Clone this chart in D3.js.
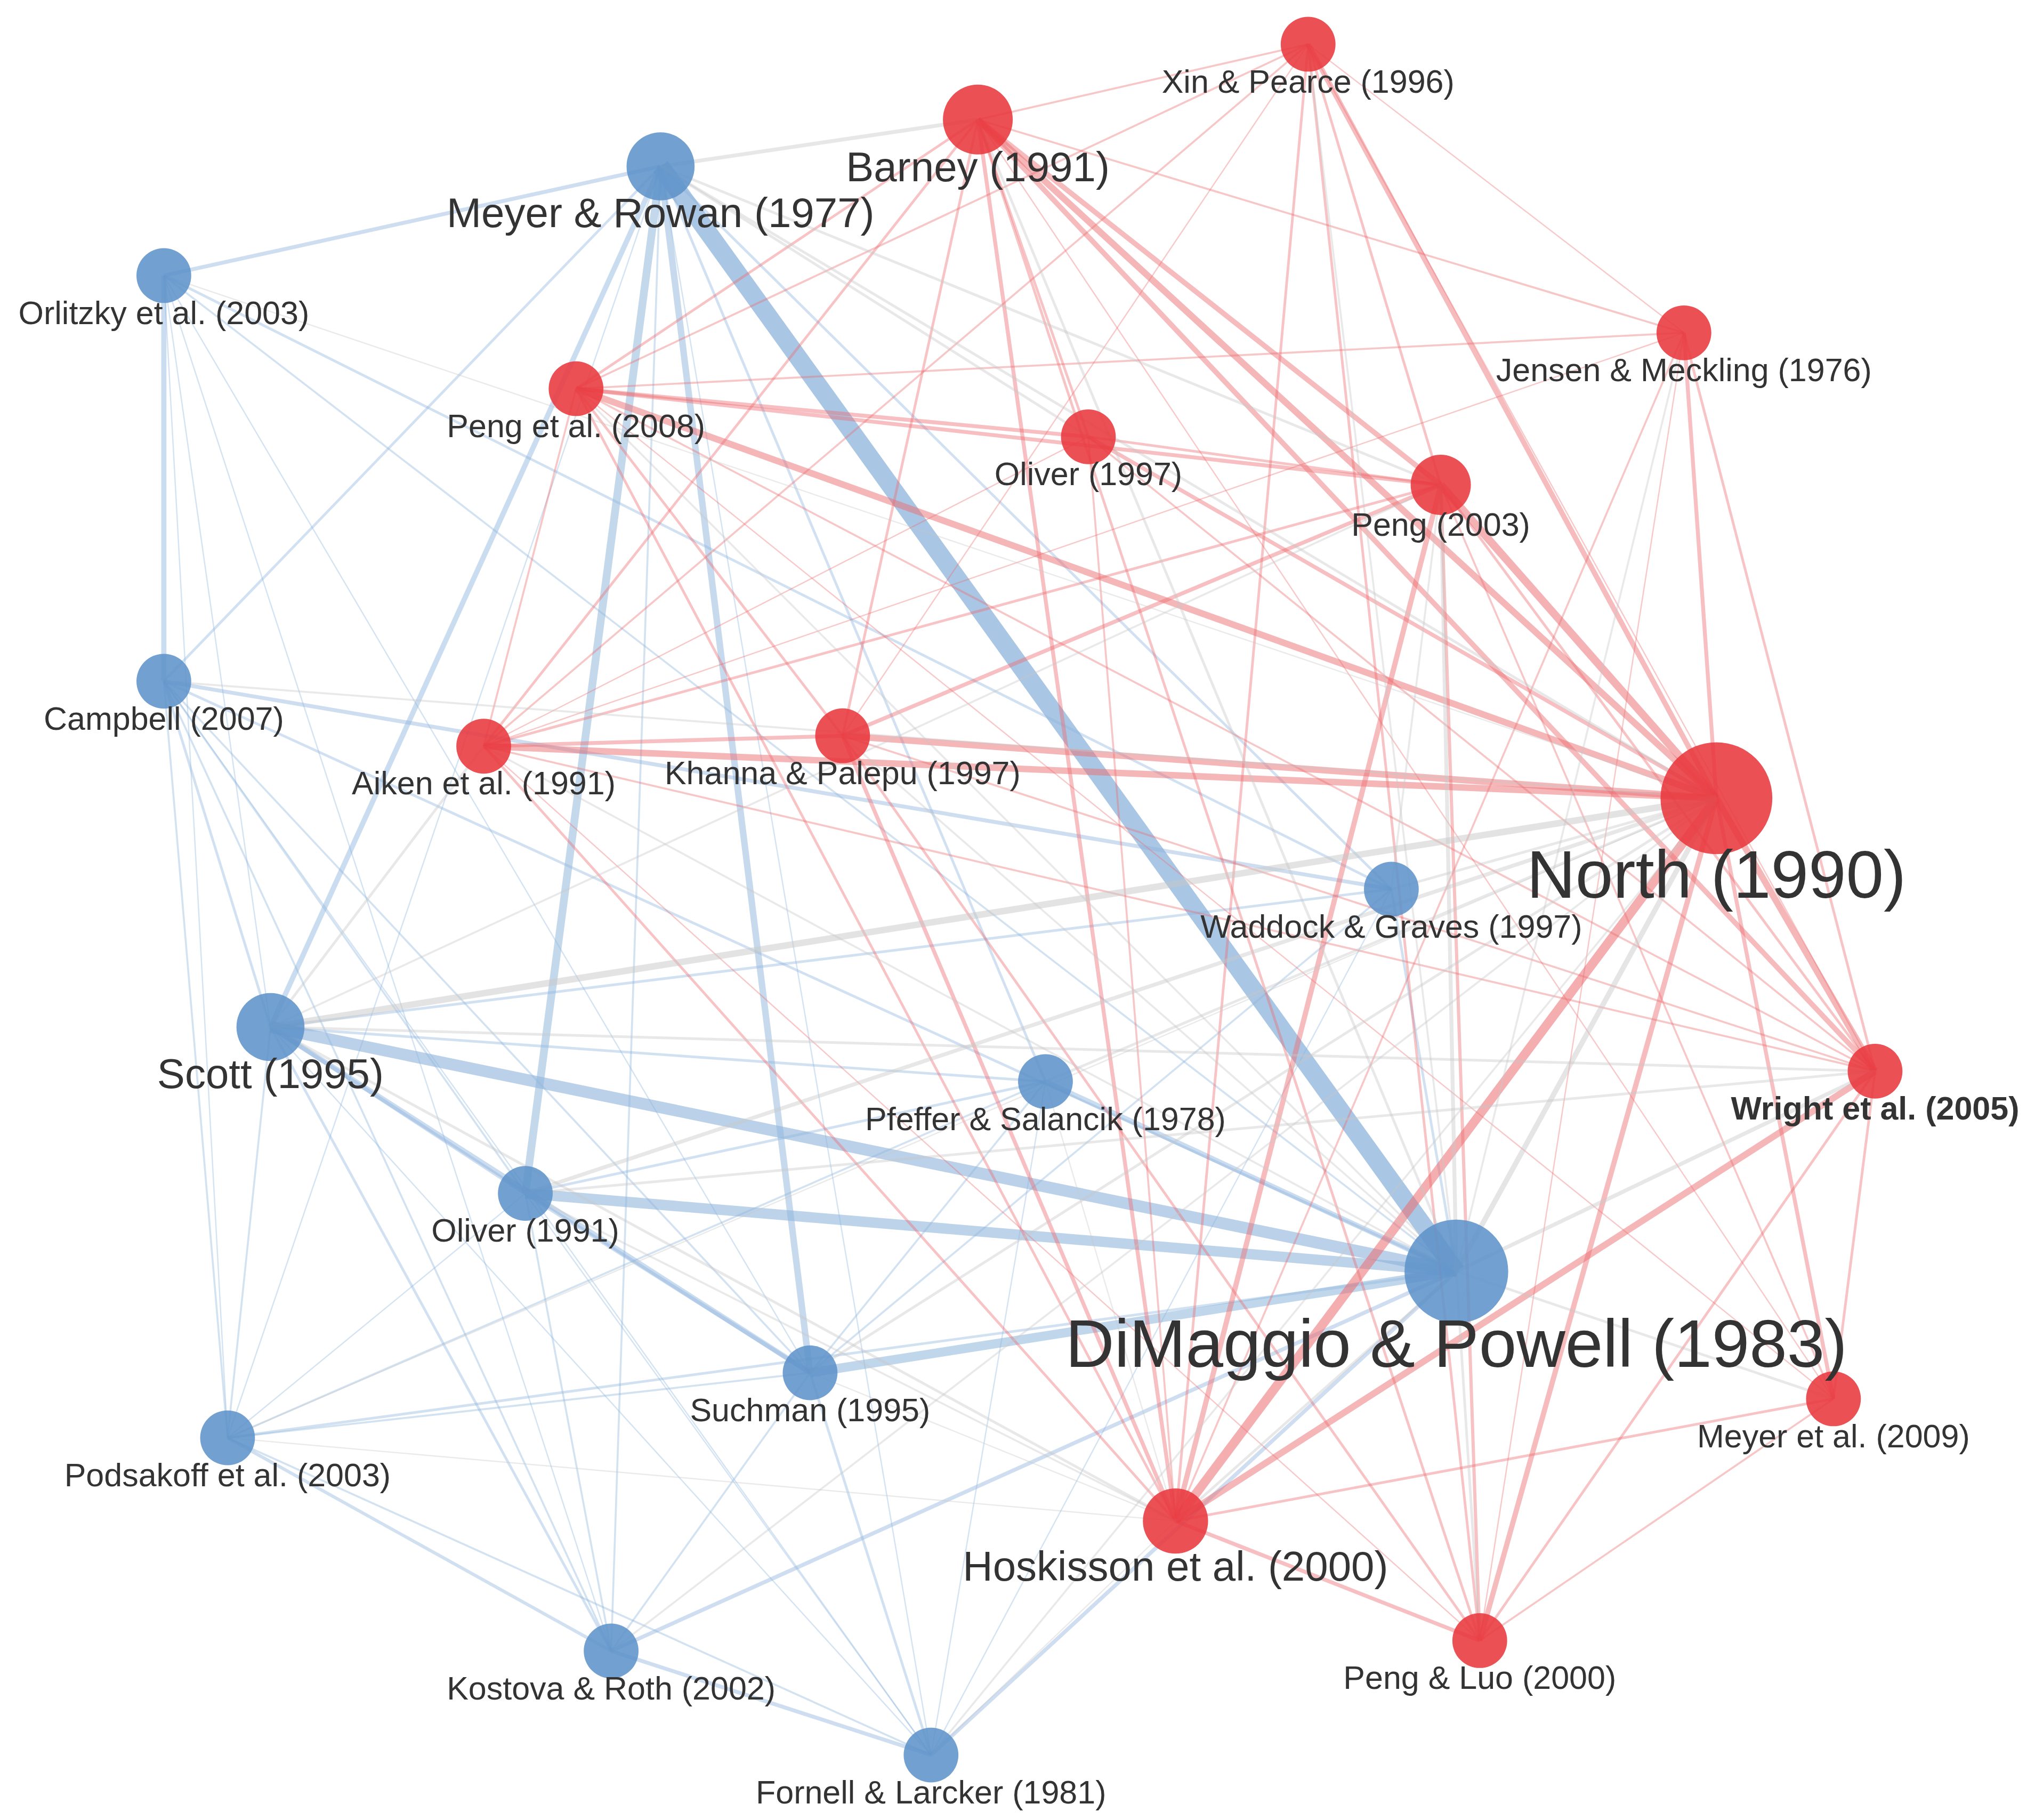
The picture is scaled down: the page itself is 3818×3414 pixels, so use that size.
<!DOCTYPE html>
<html>
<head>
<meta charset="utf-8">
<script src="https://cdn.jsdelivr.net/npm/d3@7"></script>
<style>
  body { margin: 0; background: #fff; }
  text { font-family: "Liberation Sans", Arial, sans-serif; fill: #333; }
</style>
</head>
<body>
<svg id="net"></svg>
<script>
// node ids, labels, cluster, citations and layout position (in reference pixels)
var ids = ["MR","OR","CA","SC","OL91","PS","WG","DP","SU","PO","KR","FL",
           "BA","XP","JM","PE08","OL97","PE03","AI","KP","NO","WR","ME09","HO","PL"];
var labels = ["Meyer & Rowan (1977)","Orlitzky et al. (2003)","Campbell (2007)","Scott (1995)","Oliver (1991)",
  "Pfeffer & Salancik (1978)","Waddock & Graves (1997)","DiMaggio & Powell (1983)","Suchman (1995)",
  "Podsakoff et al. (2003)","Kostova & Roth (2002)","Fornell & Larcker (1981)",
  "Barney (1991)","Xin & Pearce (1996)","Jensen & Meckling (1976)","Peng et al. (2008)","Oliver (1997)",
  "Peng (2003)","Aiken et al. (1991)","Khanna & Palepu (1997)","North (1990)","Wright et al. (2005)",
  "Meyer et al. (2009)","Hoskisson et al. (2000)","Peng & Luo (2000)"];
var cluster = ["b","b","b","b","b","b","b","b","b","b","b","b",
               "r","r","r","r","r","r","r","r","r","r","r","r","r"];
var cites = [37,24,24,37,24,24,24,86,24,24,24,24,
             39,24,24,24,24,29,24,24,100,24,24,34,24];
var posX = [508,126,126,208,404,804,1070,1120,623,175,470,716,
            752,1006,1295,443,837,1108,372,648,1320,1442,1410,904,1138];
var posY = [128,212,524,790,918,832,684,978,1056,1106,1270,1350,
            92,34,256,299,336,373,574,566,614,824,1076,1170,1262];

// co-citation links: [source, target, strength]
var links = [
  ["MR","DP",14],["MR","OL91",6],["MR","SU",5],["MR","SC",4],["MR","OR",3],["MR","CA",2],["MR","PS",2],["MR","WG",2],["MR","FL",1],["MR","KR",1.5],["MR","PO",1],
  ["OR","CA",4],["OR","WG",2],["OR","DP",1.5],["OR","SC",1],["OR","PO",1],["OR","SU",1],["OR","KR",1],
  ["CA","WG",3],["CA","DP",2],["CA","SC",2],["CA","PO",1.5],["CA","OL91",1.5],["CA","SU",1.5],["CA","KR",1.5],["CA","FL",1],
  ["SC","DP",9],["SC","OL91",3],["SC","SU",4],["SC","PS",2],["SC","WG",2],["SC","KR",2],["SC","PO",1.5],["SC","FL",1],
  ["OL91","DP",8],["OL91","SU",3],["OL91","PS",2],["OL91","KR",1.5],["OL91","FL",1],["OL91","PO",1],
  ["PS","DP",4],["PS","SU",1.5],["PS","PO",1.5],["PS","FL",1],
  ["WG","DP",2],["WG","SU",1.5],["WG","FL",1],
  ["SU","DP",7],["SU","PO",1.5],["SU","KR",1.5],["SU","FL",2],
  ["DP","KR",3],["DP","FL",3],["DP","PO",2],["PO","KR",2.5],["PO","FL",1.5],["KR","FL",3],
  ["NO","HO",7],["NO","PE03",6],["NO","BA",5],["NO","PE08",5],["NO","AI",5],["NO","KP",5],["NO","WR",5],["NO","XP",4],["NO","JM",3],["NO","PL",4],["NO","OL97",3],["NO","ME09",3],
  ["BA","PE03",4],["BA","WR",4],["BA","HO",3],["BA","AI",2],["BA","PE08",2],["BA","OL97",2],["BA","PL",2],["BA","KP",2],["BA","JM",1.5],["BA","XP",1.5],["BA","ME09",1],
  ["XP","PE03",2],["XP","HO",2],["XP","PL",2],["XP","PE08",1.5],["XP","AI",1.5],["XP","KP",1],["XP","WR",1],["XP","JM",1],
  ["JM","WR",2],["JM","PE08",1.5],["JM","HO",1.5],["JM","AI",1],["JM","PL",1],
  ["PE08","PE03",3],["PE08","OL97",3],["PE08","KP",2],["PE08","HO",2],["PE08","AI",1.5],["PE08","WR",1.5],["PE08","ME09",1],
  ["OL97","PE03",2],["OL97","HO",1.5],["OL97","WR",1.5],["OL97","AI",1],
  ["PE03","HO",4],["PE03","KP",3],["PE03","AI",2],["PE03","PL",2.5],["PE03","WR",2],["PE03","ME09",1.5],
  ["AI","KP",3],["AI","HO",2],["AI","WR",1.5],["AI","PL",1],
  ["KP","HO",3],["KP","PL",2],["KP","WR",1.5],
  ["HO","WR",5],["HO","PL",3],["HO","ME09",2],["WR","ME09",2],["WR","PL",2],["PL","ME09",1.5],
  ["SC","NO",5],["OL91","NO",3],["DP","NO",4],["DP","PE03",3],["DP","WR",3],["DP","HO",2],["MR","BA",3],["MR","NO",2],["MR","PE03",2],
  ["SC","AI",2],["SC","HO",2],["OL91","WR",2],["SU","NO",2],["PS","NO",2],["WG","NO",2],["DP","BA",2],["DP","XP",1.5],["DP","PL",2],
  ["DP","ME09",2],["CA","NO",1.5],["OR","NO",1],["PO","NO",1],["PO","HO",1],["KR","NO",1.5],["FL","NO",1.5],["MR","OL97",2],
  ["SC","WR",2],["OL91","HO",1.5],["SC","PE03",1.5],["DP","AI",1.5],["DP","KP",1.5],["DP","PE08",1.5],["SU","HO",1],["WG","PE03",1.5],
  ["PS","HO",1],["DP","JM",1.5],["FL","HO",1]
];

var W = 3818, H = 3414;
var x = d3.scaleLinear().domain([0, 1565]).range([0, W]);
var y = d3.scaleLinear().domain([0, 1400]).range([0, H]);
var k = W / 1565;
var rScale = d3.scaleSqrt().domain([0, 100]).range([0, 43 * k]);
var wScale = d3.scaleLinear().domain([0, 14]).range([0, 14 * k]);
var fill = { b: "#5f93c9", r: "#e8383d" };
var edgeColor = { bb: "#8fb5dc", rr: "#ec6e72", mix: "#c8c8c8" };

var nodes = ids.map((id, i) => ({ id: id, label: labels[i], c: cluster[i], cites: cites[i], x: posX[i], y: posY[i] }));
var byId = {};
nodes.forEach(n => byId[n.id] = n);

var svg = d3.select("#net").attr("width", W).attr("height", H);

svg.append("g").selectAll("line")
  .data(links)
  .join("line")
  .attr("x1", d => x(byId[d[0]].x)).attr("y1", d => y(byId[d[0]].y))
  .attr("x2", d => x(byId[d[1]].x)).attr("y2", d => y(byId[d[1]].y))
  .attr("stroke", d => {
    var a = byId[d[0]].c, b = byId[d[1]].c;
    return a != b ? edgeColor.mix : (a == "b" ? edgeColor.bb : edgeColor.rr);
  })
  .attr("stroke-opacity", d => 0.35 + 0.03 * d[2])
  .attr("stroke-width", d => wScale(d[2]));

svg.append("g").selectAll("circle")
  .data(nodes)
  .join("circle")
  .attr("cx", d => x(d.x)).attr("cy", d => y(d.y))
  .attr("r", d => rScale(d.cites))
  .attr("fill", d => fill[d.c])
  .attr("fill-opacity", 0.88);

function fontSize(d) {
  if (d.cites >= 80) return 52 * k;
  if (d.cites >= 34) return 32 * k;
  return 25 * k;
}

svg.append("g").selectAll("text")
  .data(nodes)
  .join("text")
  .attr("x", d => x(d.x))
  .attr("y", d => y(d.y) + rScale(d.cites) + 0.3 * fontSize(d))
  .attr("text-anchor", "middle")
  .attr("dominant-baseline", "central")
  .attr("font-size", fontSize)
  .attr("font-weight", d => d.id == "WR" ? "bold" : "normal")
  .attr("fill", d => d.id == "WR" ? "#111" : "#333")
  .text(d => d.label);
</script>
</body>
</html>
